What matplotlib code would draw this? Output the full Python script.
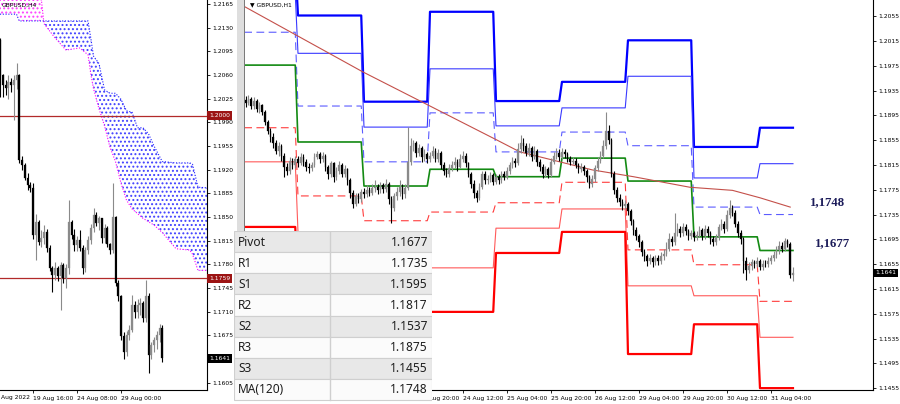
import matplotlib
matplotlib.use("Agg")
import matplotlib.pyplot as plt
from matplotlib.patches import Rectangle
import numpy as np

# ---------------- data ----------------
# H4 panel (bar index 0 = 19 Aug 16:00), prices in pips (x 1e-4)
h4_first_open = 12112
h4_close = [12060, 12045, 12041, 12050, 12045, 12053, 12060, 11934, 11927, 11908, 11897, 11893,
            11823, 11842, 11813, 11819, 11828, 11804, 11774, 11764, 11774, 11762, 11779, 11760,
            11774, 11842, 11823, 11808, 11816, 11804, 11774, 11801, 11816, 11834, 11853, 11841,
            11848, 11819, 11834, 11810, 11801, 11850, 11752, 11733, 11674, 11650, 11675, 11683,
            11720, 11709, 11720, 11723, 11700, 11733, 11646, 11660, 11668, 11675, 11685, 11641]
h4_high = [12115, 12062, 12052, 12060, 12055, 12060, 12078, 12062, 11940, 11930, 11915, 11902,
           11900, 11855, 11845, 11830, 11838, 11832, 11808, 11778, 11783, 11778, 11784, 11782,
           11780, 11875, 11846, 11832, 11822, 11830, 11808, 11806, 11822, 11840, 11863, 11858,
           11852, 11848, 11840, 11836, 11812, 11900, 11852, 11757, 11735, 11680, 11682, 11690,
           11735, 11725, 11728, 11730, 11725, 11757, 11738, 11665, 11672, 11682, 11692, 11690]
h4_low = [12027, 12028, 12030, 12025, 12035, 11993, 12040, 11930, 11920, 11905, 11890, 11887,
          11818, 11786, 11808, 11805, 11810, 11798, 11770, 11739, 11757, 11755, 11712, 11752,
          11745, 11765, 11818, 11800, 11800, 11800, 11765, 11768, 11795, 11810, 11828, 11836,
          11830, 11812, 11812, 11805, 11795, 11797, 11748, 11726, 11668, 11640, 11645, 11668,
          11680, 11700, 11700, 11705, 11695, 11695, 11619, 11640, 11650, 11655, 11665, 11635]
h4_start = -12

# Ichimoku cloud knots (H4 bar index), pips
cloud_x = [-12, -6, -5, 2, 4, 8, 12, 17, 20, 21, 22, 24, 26, 28, 30, 32, 34, 36, 38, 40,
           42, 44, 47, 52, 57, 58, 60, 64]
span_a = [12215, 12215, 12215, 12210, 12136, 12115, 12097, 12100, 12090, 12062, 12040, 12010,
          11985, 11953, 11932, 11900, 11875, 11862, 11855, 11848, 11843, 11838, 11827, 11803,
          11801, 11795, 11771, 11771]
span_b = [12150, 12150, 12140, 12140, 12140, 12140, 12140, 12140, 12140, 12115, 12088, 12077,
          12038, 12033, 12033, 12024, 12007, 12005, 11982, 11982, 11973, 11955, 11932, 11930,
          11930, 11928, 11894, 11893]
h4_levels = [1.2000, 1.1759]
h4_yticks = [1.2165, 1.2130, 1.2095, 1.2060, 1.2025, 1.1990, 1.1955, 1.1920, 1.1885, 1.1850,
             1.1815, 1.1780, 1.1745, 1.1710, 1.1675, 1.1605]
h4_xticks = [0, 16, 32]
h4_xlabels = ["19 Aug 16:00", "24 Aug 08:00", "29 Aug 00:00"]

# H1 panel (bar index 0 = 22 Aug 00:00), prices in pips
h1_first_open = 11920
h1_close = [11915, 11922, 11910, 11918, 11905, 11912, 11900, 11885, 11870, 11860, 11850, 11838,
            11845, 11830, 11812, 11805, 11822, 11815, 11825, 11818, 11828, 11820, 11812, 11810,
            11815, 11828, 11832, 11825, 11830, 11812, 11800, 11818, 11795, 11805, 11815, 11800,
            11808, 11790, 11770, 11752, 11765, 11760, 11772, 11768, 11775, 11770, 11778, 11780,
            11775, 11782, 11776, 11785, 11760, 11745, 11765, 11772, 11780, 11768, 11778, 11820,
            11845, 11850, 11835, 11842, 11828, 11832, 11825, 11830, 11838, 11825, 11835, 11815,
            11805, 11800, 11810, 11815, 11820, 11812, 11825, 11830, 11818, 11800, 11785, 11770,
            11762, 11780, 11800, 11790, 11792, 11798, 11788, 11795, 11790, 11800, 11796, 11805,
            11815, 11822, 11818, 11840, 11850, 11845, 11835, 11842, 11828, 11838, 11820, 11812,
            11800, 11808, 11798, 11820, 11830, 11835, 11828, 11836, 11832, 11825, 11820, 11822,
            11815, 11808, 11812, 11805, 11795, 11785, 11792, 11810, 11822, 11830, 11845, 11870,
            11855, 11800, 11775, 11762, 11755, 11748, 11752, 11740, 11725, 11710, 11700, 11690,
            11675, 11668, 11660, 11665, 11658, 11665, 11660, 11668, 11672, 11680, 11695, 11690,
            11705, 11712, 11705, 11715, 11708, 11700, 11705, 11698, 11702, 11710, 11700, 11712,
            11705, 11695, 11690, 11698, 11715, 11720, 11712, 11735, 11745, 11738, 11720, 11705,
            11695, 11660, 11645, 11652, 11658, 11655, 11660, 11650, 11656, 11655, 11660, 11665,
            11670, 11678, 11685, 11680, 11692, 11688, 11638, 11641]
h1_high = [11926, 11928, 11925, 11924, 11921, 11916, 11914, 11904, 11888, 11875, 11866, 11856,
           11852, 11848, 11835, 11818, 11828, 11826, 11830, 11830, 11834, 11832, 11824, 11818,
           11820, 11834, 11838, 11836, 11836, 11833, 11815, 11822, 11820, 11812, 11822, 11818,
           11815, 11810, 11794, 11774, 11770, 11770, 11776, 11778, 11782, 11780, 11784, 11790,
           11784, 11788, 11786, 11792, 11788, 11765, 11770, 11780, 11790, 11784, 11785, 11876,
           11858, 11856, 11853, 11848, 11845, 11840, 11836, 11836, 11845, 11842, 11840, 11838,
           11820, 11810, 11816, 11822, 11828, 11824, 11832, 11838, 11834, 11820, 11804, 11790,
           11775, 11786, 11806, 11805, 11798, 11804, 11802, 11800, 11800, 11806, 11805, 11812,
           11820, 11828, 11826, 11850, 11863, 11858, 11850, 11850, 11846, 11845, 11840, 11825,
           11816, 11814, 11812, 11826, 11836, 11842, 11840, 11842, 11840, 11836, 11830, 11828,
           11826, 11818, 11818, 11815, 11808, 11798, 11798, 11815, 11828, 11838, 11856, 11900,
           11880, 11858, 11805, 11780, 11768, 11760, 11758, 11756, 11744, 11728, 11715, 11704,
           11694, 11680, 11672, 11672, 11668, 11670, 11670, 11674, 11680, 11690, 11705, 11700,
           11737, 11722, 11716, 11722, 11720, 11712, 11710, 11708, 11708, 11716, 11714, 11718,
           11716, 11708, 11700, 11704, 11720, 11728, 11724, 11742, 11758, 11750, 11742, 11724,
           11710, 11698, 11666, 11658, 11664, 11662, 11666, 11664, 11662, 11662, 11666, 11670,
           11676, 11684, 11692, 11690, 11697, 11696, 11690, 11650]
h1_low = [11908, 11912, 11905, 11906, 11900, 11898, 11895, 11880, 11865, 11852, 11843, 11832,
          11830, 11822, 11795, 11798, 11800, 11808, 11810, 11812, 11815, 11814, 11806, 11802,
          11805, 11812, 11824, 11818, 11820, 11805, 11792, 11796, 11788, 11790, 11800, 11795,
          11796, 11782, 11762, 11745, 11748, 11754, 11756, 11762, 11764, 11765, 11766, 11772,
          11768, 11770, 11770, 11772, 11752, 11721, 11740, 11758, 11765, 11760, 11762, 11775,
          11815, 11838, 11828, 11830, 11820, 11822, 11818, 11820, 11826, 11820, 11820, 11808,
          11798, 11795, 11796, 11805, 11810, 11806, 11810, 11820, 11812, 11795, 11778, 11762,
          11755, 11758, 11776, 11784, 11785, 11788, 11782, 11784, 11785, 11786, 11790, 11792,
          11800, 11810, 11812, 11815, 11835, 11838, 11830, 11830, 11822, 11825, 11814, 11805,
          11794, 11796, 11794, 11796, 11816, 11825, 11822, 11824, 11826, 11820, 11815, 11816,
          11810, 11802, 11804, 11798, 11788, 11778, 11780, 11788, 11806, 11818, 11826, 11840,
          11848, 11795, 11768, 11755, 11748, 11742, 11744, 11735, 11718, 11702, 11694, 11682,
          11668, 11660, 11652, 11655, 11650, 11653, 11654, 11656, 11662, 11668, 11676, 11684,
          11686, 11700, 11698, 11700, 11702, 11694, 11695, 11692, 11694, 11698, 11694, 11696,
          11698, 11688, 11684, 11686, 11694, 11710, 11706, 11708, 11730, 11732, 11715, 11698,
          11688, 11640, 11629, 11640, 11646, 11648, 11650, 11645, 11646, 11650, 11650, 11655,
          11660, 11665, 11672, 11674, 11676, 11682, 11632, 11628]
h1_start = -19

# daily pivot levels, one value per day: 19, 22, 23, 24, 25, 26, 29, 30, 31 Aug (pips)
day_first_bar = [-24, 0, 24, 48, 72, 96, 120, 144, 168]
last_bar = 180
r3 = [12140, 12056, 11917, 12062, 11918, 11949, 12016, 11844, 11875]
r2 = [12090, 11995, 11876, 11970, 11878, 11907, 11958, 11794, 11817]
r1 = [12029, 11910, 11820, 11899, 11836, 11868, 11846, 11747, 11735]
pivot = [11976, 11852, 11781, 11808, 11796, 11826, 11789, 11699, 11677]
s1 = [11875, 11765, 11725, 11739, 11754, 11787, 11678, 11654, 11595]
s2 = [11820, 11707, 11686, 11649, 11713, 11744, 11620, 11604, 11537]
s3 = [11715, 11620, 11630, 11578, 11673, 11707, 11510, 11558, 11455]

# MA(120) knots (H1 bar index, pips)
ma_x = [-19.3, 23.6, 48, 72.4, 80.7, 97, 107, 122, 142.5, 158, 168, 179]
ma_y = [12070, 11965, 11910, 11855, 11836, 11818, 11807, 11796, 11779, 11774, 11762, 11747]

h1_yticks = [1.2055, 1.2015, 1.1975, 1.1935, 1.1895, 1.1855, 1.1815, 1.1775, 1.1735, 1.1695,
             1.1655, 1.1615, 1.1575, 1.1535, 1.1495, 1.1455]
h1_xticks = [-4, 12, 28, 44, 60, 76, 92, 108, 124, 140, 156, 172]
h1_xlabels = ["19 Aug 20:00", "22 Aug 12:00", "23 Aug 04:00", "23 Aug 20:00", "24 Aug 12:00",
              "25 Aug 04:00", "25 Aug 20:00", "26 Aug 12:00", "29 Aug 04:00", "29 Aug 20:00",
              "30 Aug 12:00", "31 Aug 04:00"]

table_names = ["Pivot", "R1", "S1", "R2", "S2", "R3", "S3", "MA(120)"]
table_values = ["1.1677", "1.1735", "1.1595", "1.1817", "1.1537", "1.1875", "1.1455", "1.1748"]

last_price = 1.1641

# ---------------- helpers ----------------
W, H = 900, 404
TICK_FS = 4.3
plt.rcParams['font.family'] = ['DejaVu Sans']
plt.rcParams['hatch.linewidth'] = 0.9

fig = plt.figure(figsize=(9, 4.04), dpi=100)
fig.patch.set_facecolor('white')


def fx(px):
    return px / W


def fy(py):
    return 1 - py / H


def draw_candles(ax, start, first_open, close, high, low, width):
    c = np.array(close) / 1e4
    h = np.array(high) / 1e4
    lo = np.array(low) / 1e4
    o = np.concatenate([[first_open / 1e4], c[:-1]])
    x = np.arange(start, start + len(c))
    cols = np.where(c >= o, '#8a8a8a', '#000000')
    ax.vlines(x, lo, h, colors=cols, lw=0.8, zorder=4)
    body = np.maximum(np.abs(c - o), 0.00006)
    ax.bar(x, body, bottom=np.minimum(o, c), width=width, color=cols,
           edgecolor=cols, lw=0.2, zorder=5)


def price_box(ax, y, text, fc):
    ax.annotate(text, xy=(1, y), xycoords=('axes fraction', 'data'),
                xytext=(1.6, 0), textcoords='offset points', ha='left', va='center',
                fontsize=TICK_FS, color='white', annotation_clip=False, zorder=10,
                bbox=dict(boxstyle='square,pad=0.3', fc=fc, ec='none'))


def style_axis(ax):
    for s in ['top', 'left']:
        ax.spines[s].set_visible(False)
    for s in ['right', 'bottom']:
        ax.spines[s].set_color('#000000')
        ax.spines[s].set_linewidth(0.8)
    ax.yaxis.tick_right()
    ax.tick_params(axis='both', labelsize=TICK_FS, length=2.5, width=0.6, pad=1.5,
                   colors='black')
    ax.set_facecolor('white')


# ---------------- H4 panel ----------------
ax1 = fig.add_axes([0, fy(390), fx(207), 390 / H])
style_axis(ax1)
ax1.set_xlim(-12, 63.27)
ax1.set_ylim(1.1594, 1.2171)

cx = np.array(cloud_x)
sa = np.array(span_a) / 1e4
sb = np.array(span_b) / 1e4
ax1.fill_between(cx, sa, sb, where=sb >= sa, interpolate=True, facecolor='none',
                 edgecolor='#4040ff', hatch='....', lw=0, zorder=1)
ax1.fill_between(cx, sa, sb, where=sa >= sb, interpolate=True, facecolor='none',
                 edgecolor='#ff40ff', hatch='....', lw=0, zorder=1)
ax1.plot(cx, sa, color='#ff00ff', lw=0.8, ls=(0, (1, 1.5)), zorder=2)
ax1.plot(cx, sb, color='#2020ff', lw=0.8, ls=(0, (1, 1.5)), zorder=2)

for lv in h4_levels:
    ax1.axhline(lv, color='#b22a2a', lw=0.9, zorder=3)

draw_candles(ax1, h4_start, h4_first_open, h4_close, h4_high, h4_low, 0.7)

ax1.set_yticks(h4_yticks)
ax1.set_yticklabels([f"{v:.4f}" for v in h4_yticks])
ax1.set_xticks(h4_xticks)
ax1.set_xticklabels(h4_xlabels, ha='left')
# first date label only partly visible in the reference
fig.text(fx(1), fy(394.5), "Aug 2022", fontsize=TICK_FS, va='top', ha='left')
ax1.text(0.008, 0.993, "GBPUSD,H4", transform=ax1.transAxes, fontsize=TICK_FS,
         va='top', ha='left')

price_box(ax1, h4_levels[0], "1.2000", '#9c1414')
price_box(ax1, h4_levels[1], "1.1759", '#9c1414')
price_box(ax1, last_price, f"{last_price:.4f}", '#000000')

# separator between panels
fig.add_artist(Rectangle((fx(237), 0), fx(7), 1, transform=fig.transFigure,
                         fc='#dedede', ec='none', zorder=0))
fig.add_artist(Rectangle((fx(243.5), 0), fx(1.5), 1, transform=fig.transFigure,
                         fc='#7a7a7a', ec='none', zorder=0))

# ---------------- H1 panel ----------------
ax2 = fig.add_axes([fx(245), fy(390), fx(628), 390 / H])
style_axis(ax2)
ax2.set_xlim(-19.27, 209.1)
ax2.set_ylim(1.1452, 1.2081)

counts = np.diff(day_first_bar + [last_bar + 1])
bars = np.arange(day_first_bar[0], last_bar + 1)
level_styles = [
    (r3, '#0000ff', 1.6, '-'),
    (r2, '#3a3aff', 0.8, '-'),
    (r1, '#5c5cff', 0.8, (0, (7, 4))),
    (pivot, '#138a13', 1.2, '-'),
    (s1, '#ff3c3c', 0.8, (0, (7, 4))),
    (s2, '#ff5a5a', 0.8, '-'),
    (s3, '#ff0000', 1.6, '-'),
]
for vals, col, lw, ls in level_styles:
    ax2.plot(bars, np.repeat(np.array(vals) / 1e4, counts), color=col, lw=lw, ls=ls, zorder=2)

ax2.plot(ma_x, np.array(ma_y) / 1e4, color='#c4504a', lw=0.8, zorder=3)

draw_candles(ax2, h1_start, h1_first_open, h1_close, h1_high, h1_low, 0.65)

ax2.set_yticks(h1_yticks)
ax2.set_yticklabels([f"{v:.4f}" for v in h1_yticks])
ax2.set_xticks(h1_xticks)
ax2.set_xticklabels(h1_xlabels, ha='left')
ax2.text(0.008, 0.993, "\u25bc GBPUSD,H1", transform=ax2.transAxes, fontsize=TICK_FS,
         va='top', ha='left')
price_box(ax2, last_price, f"{last_price:.4f}", '#000000')

ax2.text(192.7, 1.1755, "1,1748", fontsize=9.2, fontweight='bold', color='#1c1c5a',
         family='Liberation Serif', ha='center', va='center', zorder=6)
ax2.text(194.2, 1.1689, "1,1677", fontsize=9.2, fontweight='bold', color='#1c1c5a',
         family='Liberation Serif', ha='center', va='center', zorder=6)

# ---------------- values table ----------------
tx0, ty0, tw, th = 234, 231, 198, 169
tax = fig.add_axes([fx(tx0), 0, fx(tw), (th + 4) / H], zorder=20)
tax.set_xlim(0, tw)
tax.set_ylim(th + 4, 0)
tax.axis('off')
tax.add_patch(Rectangle((0, 0), tw, th + 4, fc='white', ec='none'))
row_h = th / len(table_names)
for k, (name, val) in enumerate(zip(table_names, table_values)):
    top = k * row_h
    fc = '#e8e8e8' if k % 2 == 0 else '#fbfbfb'
    tax.add_patch(Rectangle((0, top), tw, row_h, fc=fc, ec='#cfcfcf', lw=0.8))
    tax.text(4, top + row_h / 2 + 0.5, name, fontsize=8.6, family='Noto Sans',
             color='#1e1e1e', va='center', ha='left')
    tax.text(tw - 4, top + row_h / 2 + 0.5, val, fontsize=8.6, family='Noto Sans',
             color='#1e1e1e', va='center', ha='right')
tax.plot([96, 96], [0, th], color='#cfcfcf', lw=1.0)

fig.savefig("out.png", dpi=100, facecolor='white')
